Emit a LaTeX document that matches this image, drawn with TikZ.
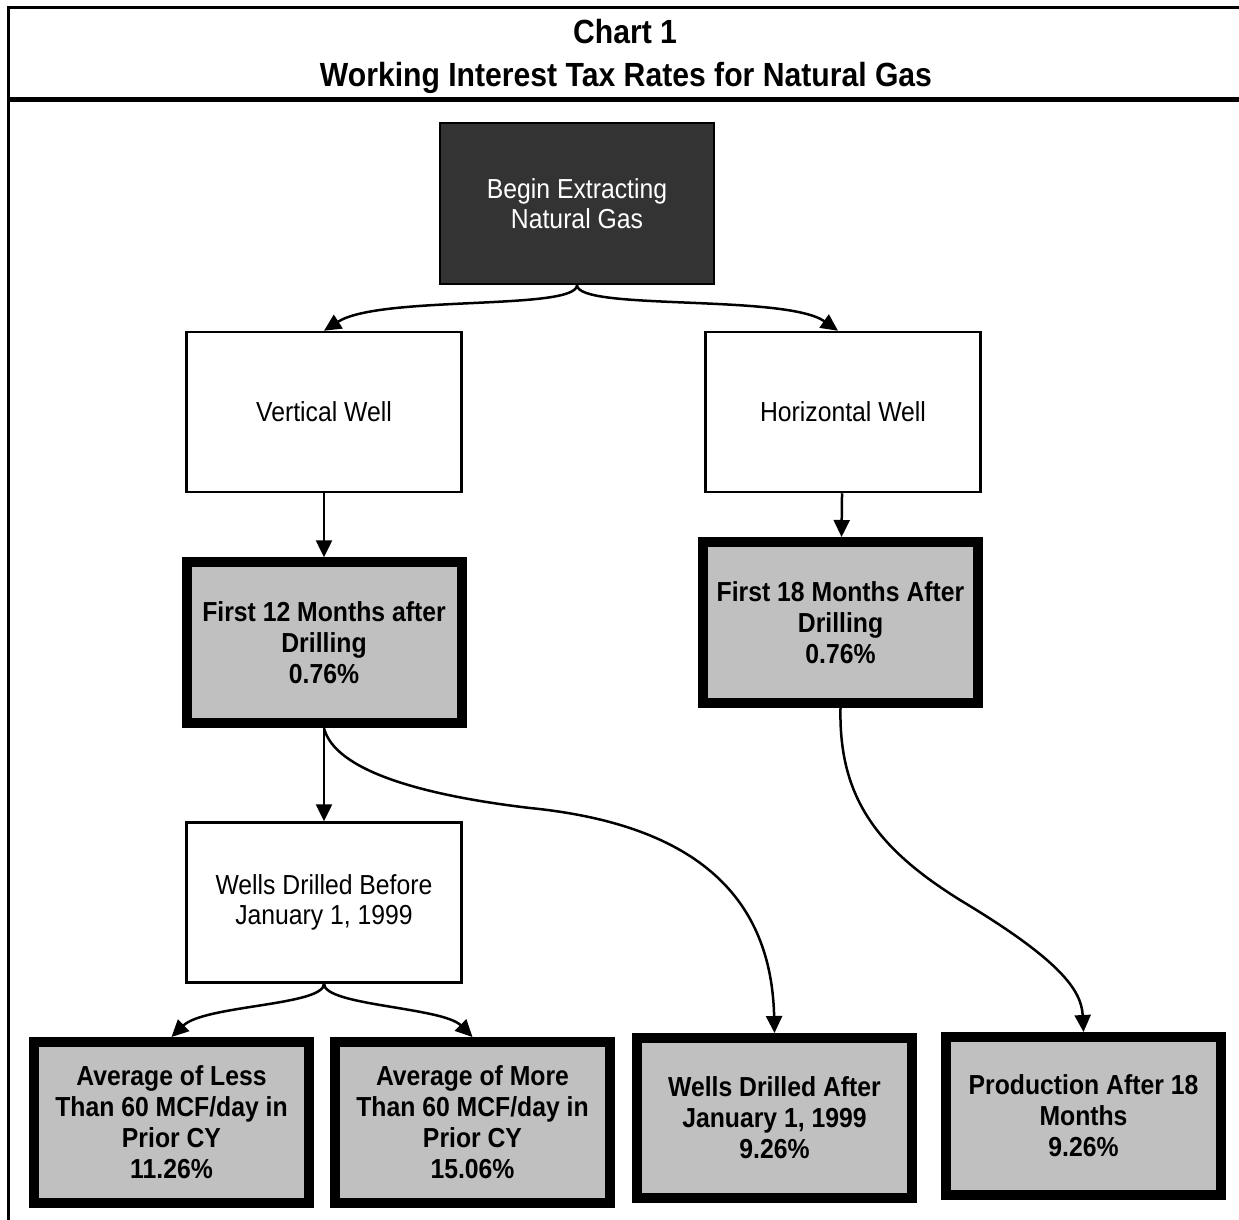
\documentclass[tikz,border=0pt]{standalone}
\usepackage{fontspec}
\setmainfont{Liberation Sans}[FakeStretch=0.9]
\usetikzlibrary{positioning, arrows.meta}
\definecolor{rategray}{HTML}{C0C0C0}
\definecolor{startgray}{HTML}{333333}

\begin{document}
\begin{tikzpicture}[x=1pt,y=-1pt,>={Triangle[length=17pt,width=16pt]},
  font=\fontsize{27.5}{30}\selectfont,
  ttl/.style={font=\fontsize{33.5}{35}\selectfont\bfseries,anchor=base},
  start/.style={draw,line width=2pt,fill=startgray,text=white,align=center,minimum width=274pt,minimum height=161pt,inner sep=0pt},
  plain/.style={draw,line width=2.5pt,fill=white,align=center,minimum width=275pt,minimum height=160pt,inner sep=0pt},
  rate/.style={draw,line width=10pt,fill=rategray,align=center,font=\fontsize{27.5}{31}\selectfont\bfseries,minimum width=275pt,minimum height=161pt,inner sep=0pt},
  link/.style={->,line width=2.5pt}]
  \useasboundingbox (0,0) rectangle (1239,1220);
  \draw[line width=3pt] (1239,8) -- (8,8) -- (8,1220);
  \draw[line width=5pt] (8,100) -- (1239,100);
  \node[ttl](chart) at (625,44){Chart 1};
  \node[ttl](title) at (626,87){Working Interest Tax Rates for Natural Gas};

  \node[start](begin) at (577,203.5){Begin Extracting\\Natural Gas};
  \node[plain](vw) at (324,412){Vertical Well};
  \node[plain](hw) at (843,412){Horizontal Well};
  \node[rate,below=64pt of vw](f12){First 12 Months after\\Drilling\\0.76\%};
  \node[rate](f18) at (840.5,622.5){First 18 Months After\\Drilling\\0.76\%};
  \node[plain,below=93pt of f12](wdb){Wells Drilled Before\\January 1, 1999};
  \node[rate](less) at (171.5,1122.5){Average of Less\\Than 60 MCF/day in\\Prior CY\\11.26\%};
  \node[rate,right=16pt of less](more){Average of More\\Than 60 MCF/day in\\Prior CY\\15.06\%};
  \node[rate,minimum height=160pt](after) at (774.5,1118){Wells Drilled After\\January 1, 1999\\9.26\%};
  \node[rate,minimum height=158pt](prod) at (1083.5,1116){Production After 18\\Months\\9.26\%};
  \coordinate (bendl) at (530,808);
  \coordinate (bendr) at (960,900);

  \draw[link](begin.south) .. controls +(0,26) and +(56,-36) .. (vw.north);
  \draw[link](begin.south) .. controls +(0,26) and +(-53,-37) .. ([xshift=-5pt]hw.north);
  \draw[link](vw) -- (f12);
  \draw[link](hw) -- (f18);
  \draw[link](f12) -- (wdb);
  \draw[link](f12.south) .. controls +(11,42) and +(-110,-13) .. (bendl) .. controls +(170,17) and +(-3,-133) .. (after.north);
  \draw[link](f18.south) .. controls +(-2,92) and +(-80,-50) .. (bendr) .. controls +(100,60) and +(-2,-42) .. (prod.north);
  \draw[link](wdb.south) .. controls +(0,22) and +(33,-32) .. (less.north);
  \draw[link](wdb.south) .. controls +(0,22) and +(-30,-30) .. (more.north);
\end{tikzpicture}
\end{document}
